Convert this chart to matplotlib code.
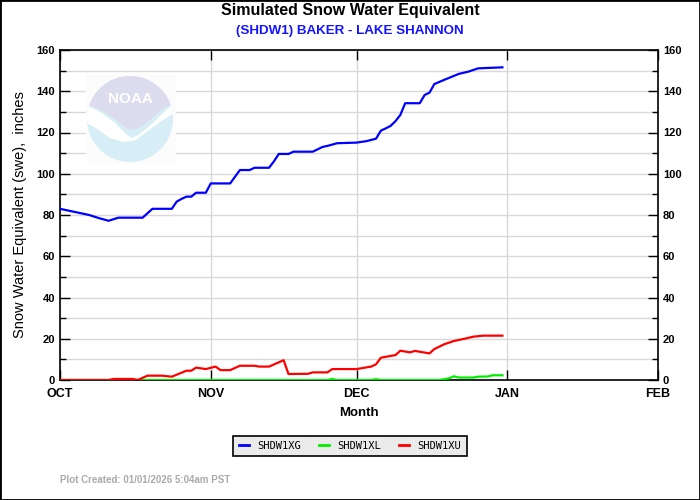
import matplotlib
matplotlib.use('Agg')
import matplotlib.pyplot as plt
from matplotlib.patches import Ellipse, Rectangle, Polygon
from matplotlib.lines import Line2D

plt.rcParams['font.family'] = ['Liberation Sans', 'DejaVu Sans']

# days since Oct 1 and SWE (inches)
xg_days = [0, 2, 4, 6, 8, 10, 12, 17, 19, 23, 24, 25, 26, 27, 28, 30, 31, 35, 37, 39,
           40, 43, 44, 45, 47, 48, 52, 54, 55, 57, 61, 63, 65, 66, 67, 68, 69, 70, 71,
           74, 75, 76, 77, 79, 82, 84, 86, 91]
xg_vals = [83.0, 82.0, 81.0, 80.0, 78.5, 77.2, 78.7, 78.7, 83.0, 83.0, 86.5, 87.8, 88.9,
           88.9, 90.8, 90.8, 95.3, 95.3, 101.8, 101.8, 102.9, 102.9, 106.0, 109.6, 109.6,
           110.7, 110.7, 113.0, 113.5, 114.8, 115.1, 115.8, 117.0, 120.9, 122.0, 123.2,
           125.5, 128.5, 134.2, 134.2, 138.2, 139.3, 143.5, 145.5, 148.4, 149.5, 151.1, 151.6]

xl_days = [0, 55, 56, 57, 64, 65, 66, 78, 79, 80, 81, 82, 85, 86, 88, 89, 91]
xl_vals = [0, 0, 0.5, 0, 0, 0.4, 0, 0, 0.4, 0.8, 1.8, 1.2, 1.2, 1.6, 1.7, 2.3, 2.3]

xu_days = [0, 10, 11, 15, 16, 18, 21, 23, 26, 27, 28, 30, 32, 33, 35, 37, 40, 41, 43,
           46, 47, 51, 52, 55, 56, 61, 64, 65, 66, 69, 70, 72, 73, 76, 77, 79, 81, 83,
           85, 87, 91]
xu_vals = [0, 0, 0.5, 0.5, 0, 2.1, 2.1, 1.6, 4.5, 4.5, 6.0, 5.3, 6.5, 4.8, 4.8, 6.9,
           6.9, 6.5, 6.5, 9.6, 2.9, 3.0, 3.7, 3.7, 5.3, 5.3, 6.5, 7.6, 10.8, 12.1, 14.2,
           13.4, 14.1, 12.9, 15.0, 17.3, 18.9, 19.9, 21.0, 21.5, 21.5]

month_days = [0, 31, 61, 92, 123]
month_labels = ['OCT', 'NOV', 'DEC', 'JAN', 'FEB']

W, H = 700, 500


def fpt(px, py):
    return (px / W, 1 - py / H)


fig = plt.figure(figsize=(7, 5), dpi=100)
ax = fig.add_axes([60 / W, 120 / H, 598 / W, 330 / H])

# faint NOAA watermark
fig.patches.append(Rectangle(fpt(86, 164), 90 / W, 90 / H, transform=fig.transFigure,
                             facecolor='#fcfcfc', edgecolor='none', zorder=0))
circ = Ellipse(fpt(130, 119), 86 / W, 86 / H, transform=fig.transFigure,
               facecolor='#d8eef7', edgecolor='none', zorder=0.5)
fig.patches.append(circ)
gull = Polygon([fpt(*p) for p in [(84, 104), (100, 112), (114, 122), (126, 134), (132, 138),
                                   (140, 134), (152, 124), (164, 112), (176, 102), (176, 112),
                                   (160, 122), (146, 132), (136, 140), (124, 142), (110, 138),
                                   (96, 128), (84, 122)]],
               closed=True, transform=fig.transFigure, facecolor='white',
               edgecolor='none', zorder=0.55)
gull.set_clip_path(circ)
fig.patches.append(gull)
top = Polygon([fpt(*p) for p in [(84, 74), (176, 74), (176, 102), (164, 108), (152, 118),
                                  (142, 126), (134, 130), (126, 128), (116, 120), (104, 112),
                                  (92, 106), (84, 104)]],
              closed=True, transform=fig.transFigure, facecolor='#dcdcee',
              edgecolor='none', zorder=0.6)
top.set_clip_path(circ)
fig.patches.append(top)
fig.text(130 / W, 1 - 99 / H, 'NOAA', color='white', fontsize=11, fontweight='bold',
         ha='center', va='center', zorder=0.7)

ax.set_facecolor('none')
ax.plot(xg_days, xg_vals, color='#0000ff', lw=1.6, zorder=3)
ax.plot(xl_days, xl_vals, color='#00ee00', lw=1.6, zorder=3)
ax.plot(xu_days, xu_vals, color='#ff0000', lw=1.6, zorder=3)

ax.set_xlim(0, 123)
ax.set_ylim(0, 160)
ax.set_xticks(month_days)
ax.set_xticklabels(month_labels)
ax.set_yticks(range(0, 161, 20))
ax.set_yticks(range(10, 160, 20), minor=True)
ax.grid(True, which='both', color='#d9d9d9', lw=1)
ax.set_axisbelow(True)
ax.tick_params(which='major', direction='in', length=7, width=1, top=True, right=True,
               labelright=True, labelsize=8)
ax.tick_params(which='minor', direction='in', length=4, width=1, left=True, right=True)
ax.tick_params(axis='x', pad=6, labelsize=9)
for t in ax.yaxis.get_major_ticks():
    t.label1.set_fontweight('bold')
    t.label2.set_fontweight('bold')
for t in ax.xaxis.get_major_ticks():
    t.label1.set_fontweight('bold')
for sp in ax.spines.values():
    sp.set_linewidth(1.2)

ax.set_xlabel('Month', fontsize=9.5, fontweight='bold', labelpad=5)
ax.set_ylabel('Snow Water Equivalent (swe),  inches', fontsize=10.5, labelpad=7)

fig.text(0.5, 1 - 11 / H, 'Simulated Snow Water Equivalent', ha='center', va='center',
         fontsize=11.5, fontweight='bold')
fig.text(0.5, 1 - 31 / H, '(SHDW1) BAKER - LAKE SHANNON', ha='center', va='center',
         fontsize=9.6, fontweight='bold', color='#1414ff')

handles = [Line2D([], [], color=c, lw=2) for c in ['#0000ff', '#00ee00', '#ff0000']]
leg = fig.legend(handles, ['SHDW1XG', 'SHDW1XL', 'SHDW1XU'], loc='center',
                 bbox_to_anchor=(350 / W, 1 - 446 / H), ncol=3, frameon=True,
                 fancybox=False, handlelength=1.0, columnspacing=1.7, handletextpad=0.8,
                 prop={'family': 'DejaVu Sans Mono', 'size': 7.5}, borderpad=0.5)
leg.get_frame().set_facecolor('#ebebeb')
leg.get_frame().set_edgecolor('black')
leg.get_frame().set_alpha(1)
leg.get_frame().set_linewidth(1.2)

fig.text(60 / W, 1 - 480 / H, 'Plot Created: 01/01/2026 5:04am PST', ha='left',
         va='center', fontsize=7, fontweight='bold', color='#aaaaaa')

fig.patches.append(Rectangle((0, 0), 1, 1, transform=fig.transFigure, fill=False,
                             edgecolor='black', lw=2, zorder=10))

fig.savefig('out.png', dpi=100)
